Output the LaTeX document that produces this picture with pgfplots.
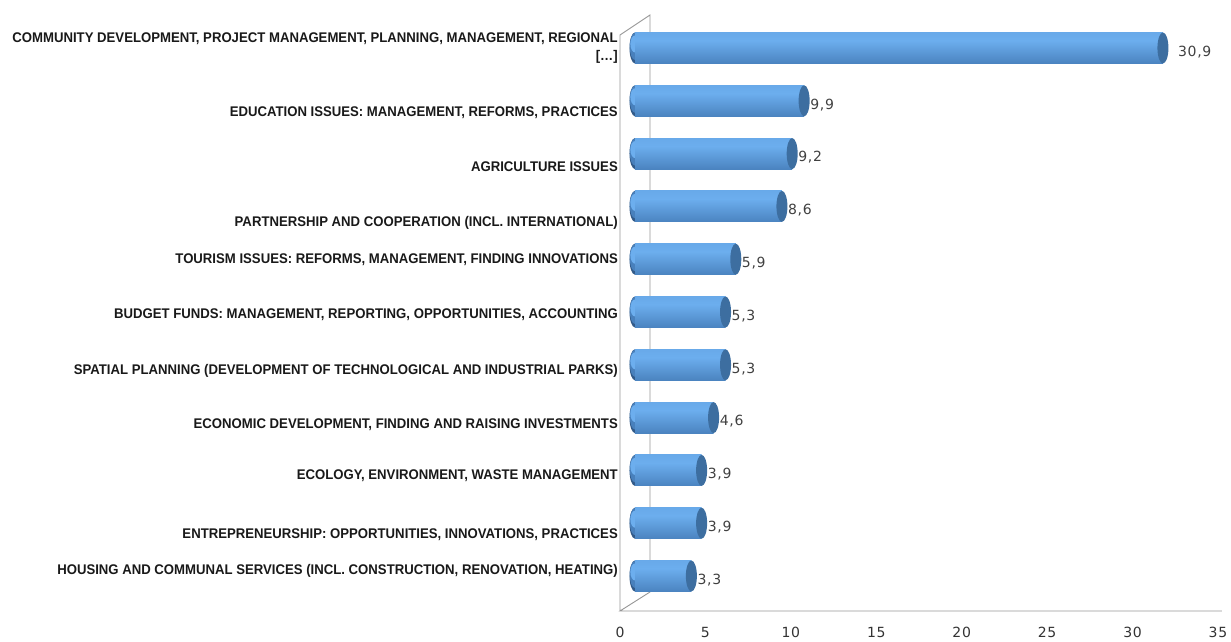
\documentclass[border=0pt]{standalone}
\usepackage{pgfplots}
\pgfplotsset{compat=1.18}
\usepackage{fontspec}
\setmainfont{DejaVu Sans}
\newfontfamily\numfont{DejaVu Sans}[LetterSpace=5]
\newfontfamily\catfont{Liberation Sans}[FakeStretch=0.94]
\definecolor{bartop}{RGB}{74,132,196}
\definecolor{barmid}{RGB}{108,174,238}
\definecolor{barlow}{RGB}{72,128,188}
\definecolor{barbot}{RGB}{50,90,136}
\definecolor{capc}{RGB}{61,110,160}
\definecolor{framec}{RGB}{150,150,150}
\pgfdeclareverticalshading{cyl}{100bp}{color(0bp)=(barbot); color(22bp)=(barlow); color(62bp)=(barmid); color(80bp)=(barmid!85!bartop); color(100bp)=(bartop)}
\newcommand\halfell[4]{% x-center y-center rx ry : left half ellipse
  \pgfpathmoveto{\pgfqpoint{#1}{\dimexpr#2+#4\relax}}%
  \pgfpatharc{90}{270}{#3 and #4}%
  \pgfpathclose}
\pgfdeclareplotmark{leftcap}{%
  \pgfsetfillcolor{barbot}\halfell{0pt}{0pt}{5.5pt}{15.5pt}\pgfusepath{fill}%
  \pgfsetfillcolor{barlow}\halfell{0pt}{1.5pt}{5.2pt}{13.5pt}\pgfusepath{fill}%
  \pgfsetfillcolor{barmid}\halfell{0pt}{4pt}{4.6pt}{8.5pt}\pgfusepath{fill}}
\pgfdeclareplotmark{rightcap}{%
  \pgfsetfillcolor{capc}\pgfpathellipse{\pgfpointorigin}{\pgfqpoint{5.5pt}{0pt}}{\pgfqpoint{0pt}{15.5pt}}\pgfusepath{fill}}
\newcommand\cyl[2]{\addplot[xbar, bar width=31pt, bar shift=0pt, draw=none, shade, shading=cyl] coordinates {(#1,#2)};}
\pgfplotsset{valstyle/.style={only marks, mark=rightcap, nodes near coords, point meta=explicit,
  nodes near coords style={anchor=west, xshift=#1, yshift=-4pt, inner sep=1pt, font=\numfont\fontsize{14}{16}\selectfont, text=black!75,
  /pgf/number format/.cd, fixed, fixed zerofill, precision=1, use comma}}}
\begin{document}
\begin{tikzpicture}
\begin{axis}[
  scale only axis,
  width=598pt, height=576pt,
  xmin=0, xmax=35, ymin=-0.663, ymax=10.246,
  axis line style={draw=none},
  major tick length=0pt,
  xtick={0,5,10,15,20,25,30,35},
  /pgf/number format/assume math mode=true,
  xticklabel style={font=\numfont\fontsize{14}{16}\selectfont, text=black!80, xshift=-15pt, yshift=-13pt},
  ytick={0.114,0.809,1.913,2.892,3.915,4.975,6.017,6.710,7.752,8.794},
  yticklabels={HOUSING AND COMMUNAL SERVICES (INCL. CONSTRUCTION{,} RENOVATION{,} HEATING),
    ENTREPRENEURSHIP: OPPORTUNITIES{,} INNOVATIONS{,} PRACTICES,
    ECOLOGY{,} ENVIRONMENT{,} WASTE MANAGEMENT,
    ECONOMIC DEVELOPMENT{,} FINDING AND RAISING INVESTMENTS,
    SPATIAL PLANNING (DEVELOPMENT OF TECHNOLOGICAL AND INDUSTRIAL PARKS),
    BUDGET FUNDS: MANAGEMENT{,} REPORTING{,} OPPORTUNITIES{,} ACCOUNTING,
    TOURISM ISSUES: REFORMS{,} MANAGEMENT{,} FINDING INNOVATIONS,
    PARTNERSHIP AND COOPERATION (INCL. INTERNATIONAL),
    AGRICULTURE ISSUES,
    EDUCATION ISSUES: MANAGEMENT{,} REFORMS{,} PRACTICES},
  yticklabel style={font=\catfont\bfseries\fontsize{14}{17}\selectfont, text=black!90, inner sep=0pt, text height=10pt, text depth=0pt, xshift=-17pt},
  extra y ticks={10.0},
  extra y tick labels={{COMMUNITY DEVELOPMENT{,} PROJECT MANAGEMENT{,} PLANNING{,} MANAGEMENT{,} REGIONAL\\{[}…{]}}},
  extra y tick style={yticklabel style={font=\catfont\bfseries\fontsize{14}{18}\selectfont, align=right, text height=, text depth=}},
  clip=false,
]
% frame
\draw[framec, line width=0.9pt] ([shift={(-15pt,0pt)}]axis cs:0,-0.663) -- ([shift={(-15pt,0pt)}]axis cs:0,10.246) -- ([shift={(15pt,20pt)}]axis cs:0,10.246) -- ([shift={(15pt,19pt)}]axis cs:0,-0.663) -- ([shift={(-15pt,0pt)}]axis cs:0,-0.663) -- ([shift={(-11pt,0pt)}]axis cs:35,-0.663);
% left caps
\addplot[only marks, mark=leftcap] coordinates {(0,0) (0,1) (0,2) (0,3) (0,4) (0,5) (0,6) (0,7) (0,8) (0,9) (0,10)};
% bars
\cyl{3.3}{0}
\cyl{3.9}{1}
\cyl{3.9}{2}
\cyl{4.6}{3}
\cyl{5.3}{4}
\cyl{5.3}{5}
\cyl{5.9}{6}
\cyl{8.6}{7}
\cyl{9.2}{8}
\cyl{9.9}{9}
\cyl{30.9}{10}
% right caps + value labels
\addplot[valstyle=5pt] coordinates {(3.3,0) [3.3] (3.9,1) [3.9] (3.9,2) [3.9] (4.6,3) [4.6] (5.3,4) [5.3] (5.3,5) [5.3] (5.9,6) [5.9] (8.6,7) [8.6] (9.2,8) [9.2] (9.9,9) [9.9]};
\addplot[valstyle=14pt] coordinates {(30.9,10) [30.9]};
\end{axis}
\pgfresetboundingbox
\path ([shift={(-635pt,-31pt)}]current axis.south west) rectangle ([shift={(596pt,611pt)}]current axis.south west);
\end{tikzpicture}
\end{document}
